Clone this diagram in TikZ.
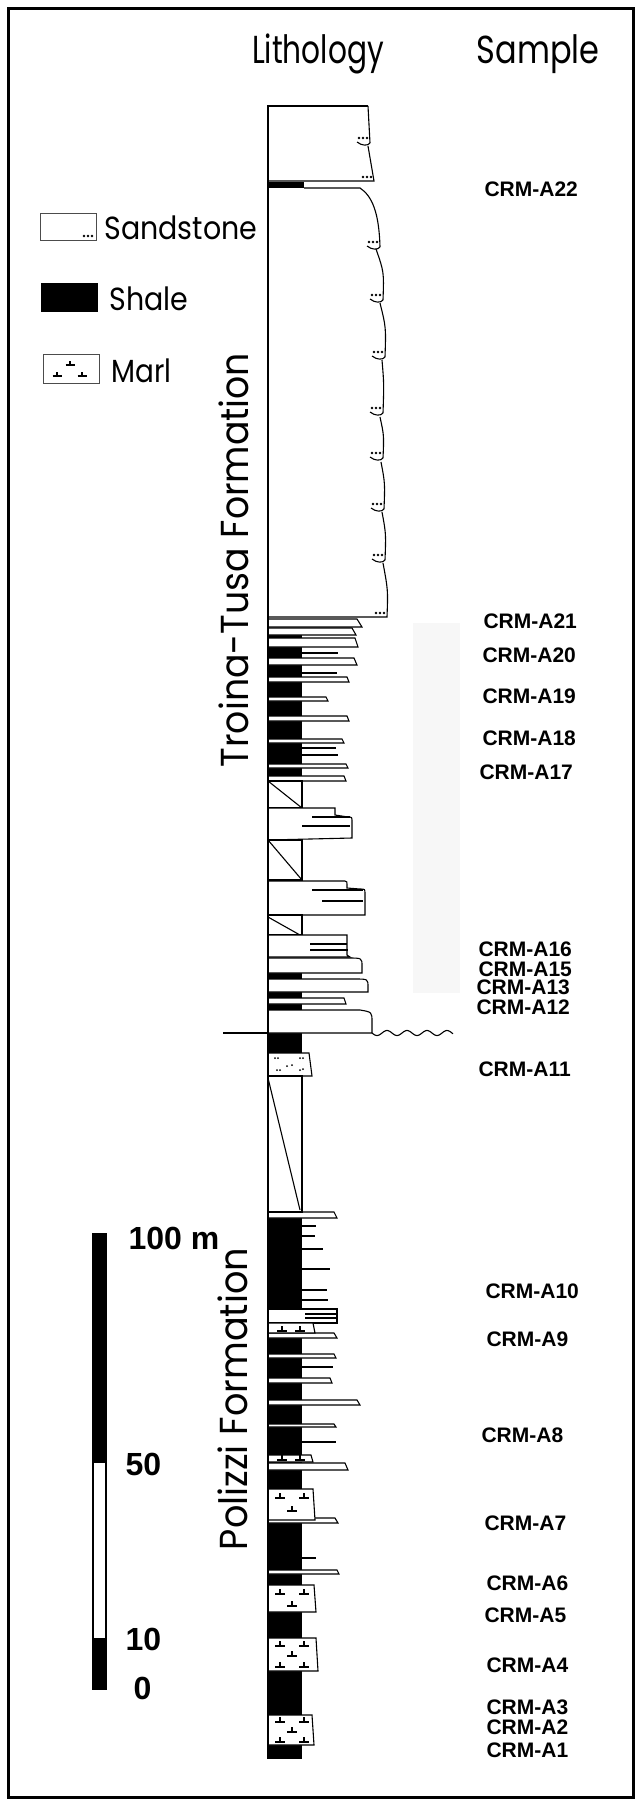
\documentclass[tikz,border=0pt]{standalone}
\usepackage{fontspec}
\setmainfont{Poppins}
\newfontfamily\labelfont{Liberation Sans}
\usepackage{graphicx}
\usepackage{tikz}
\newcommand\squeeze[2]{\scalebox{#1}[1]{#2}}

\begin{document}
\begin{tikzpicture}[x=1pt,y=-1pt,
        bed/.style={draw,fill=white,line width=1.1pt},
        silt/.style={line width=1.1pt},
        head/.style={anchor=base,font=\fontsize{39}{39}\selectfont},
        leg/.style={anchor=base west,font=\fontsize{32}{32}\selectfont},
        formation/.style={anchor=base,rotate=90,font=\fontsize{39}{39}\selectfont},
        sample/.style={anchor=west,font=\labelfont\bfseries\fontsize{21}{21}\selectfont},
        scalelabel/.style={anchor=west,font=\labelfont\bfseries\fontsize{32}{32}\selectfont},
        marl/.pic={\draw[line width=1.1pt] (-5,0) -- (5,0) (0,0) -- (0,-5);},
        hook/.pic={\draw[line width=1.1pt] (0,0) .. controls (-2,3) and (-8,3) .. (-13,-1);
                \fill (-11,-5) circle (1.3pt) (-7,-5) circle (1.3pt) (-3,-5) circle (1.3pt);},
        sanddots/.pic={\fill (-11,-4) circle (1.3pt) (-7,-4) circle (1.3pt) (-3,-4) circle (1.3pt);}]
        \useasboundingbox (0,0) rectangle (636,1800);
        \draw[line width=3pt] (8,8) rectangle (633,1797);

        \node[head] (lith) at (318,63) {\squeeze{0.76}{Lithology}};
        \node[head] (sample) at (538,63) {\squeeze{0.82}{Sample}};

        \draw[black!70,line width=0.8pt] (40,213) rectangle (96,240);
        \pic at (95,240) {sanddots};
        \node[leg] (sandstone) at (101,239) {\squeeze{0.89}{Sandstone}};
        \fill (41,283) rectangle (98,312);
        \node[leg] (shale) at (106,310) {\squeeze{0.89}{Shale}};
        \draw[black!70,line width=0.8pt] (43,354) rectangle (99,383);
        \pic[scale=0.9] at (70,365) {marl};
        \pic[scale=0.9] at (57,376) {marl};
        \pic[scale=0.9] at (82,376) {marl};
        \node[leg] (marl) at (108,382) {\squeeze{0.87}{Marl}};

        \node[formation] (troina) at (248,560) {\squeeze{0.93}{Troina-Tusa Formation}};
        \node[formation] (polizzi) at (247,1399) {\squeeze{0.94}{Polizzi Formation}};

        \fill[black!3] (413,623) rectangle (460,993);

        \draw[line width=2.5pt] (368,106) -- (268,106);
        \draw[line width=1.1pt] (368,106) -- (370,143);
        \pic at (370,143) {hook};
        \draw[line width=1.1pt] (368,146) -- (374,181) -- (268,181);
        \pic at (374,181) {sanddots};
        \fill (268,182) rectangle (304,188);
        \draw[line width=1.1pt] (304,188) -- (360,188) .. controls (372,196) and (379,212) .. (380,247);
        \pic at (380,247) {hook};
        \foreach \xa/\ya/\xb/\yb in {376/249/383/300, 380/303/385/357, 382/360/383/413,
                380/417/383/458, 381/462/384/509, 382/512/385/560}{
                \draw[line width=1.1pt] (\xa,\ya) .. controls ({\xb+1},{\ya+0.45*(\yb-\ya)}) .. (\xb,\yb);
                \pic at (\xb,\yb) {hook};
        }
        \draw[line width=1.1pt] (383,563) .. controls (388,590) .. (387,617) -- (268,617);
        \pic at (387,617) {sanddots};

        \fill (268,635) rectangle (302,781);
        \fill (268,973) rectangle (302,1010);
        \fill (268,1033) rectangle (302,1759);
        \foreach \ya/\yb/\xa/\xb in {619/627/357/362, 628/635/352/356, 638/647/355/358,
                658/665/354/357, 677/682/347/349, 697/701/326/328, 716/721/347/349,
                739/743/342/344, 764/768/346/348, 776/781/344/346, 998/1004/344/346,
                1212/1218/334/337, 1333/1338/334/337, 1354/1358/334/336, 1378/1383/330/332,
                1400/1405/357/360, 1424/1427/334/336, 1463/1470/345/348, 1518/1523/335/338,
                1570/1574/337/339}
                \draw[bed] (268,\ya) -- (\xa,\ya) -- (\xb,\yb) -- (268,\yb) -- cycle;
        \foreach \y/\x in {653/338, 673/337, 748/336, 755/338, 1226/316, 1236/315,
                1249/323, 1269/330, 1290/327, 1300/328, 1367/333, 1442/336, 1558/316}
                \draw[silt] (302,\y) -- (\x,\y);

        \draw[bed] (268,781) rectangle (302,808);
        \draw[silt] (268,781) -- (302,808);
        \draw[bed] (268,808) -- (335,808) -- (335,815) -- (348,817)
                .. controls (352,817) .. (352,822) -- (352,838) -- (268,840) -- cycle;
        \draw[silt] (312,817) -- (350,817) (302,826) -- (350,826);
        \draw[bed] (268,840) rectangle (302,880);
        \draw[silt] (268,840) -- (302,880);
        \draw[bed] (268,881) -- (345,881) .. controls (347,881) .. (347,888) -- (360,889)
                .. controls (365,889) .. (365,894) -- (365,915) -- (268,915) -- cycle;
        \draw[silt] (312,890) -- (363,890) (322,901) -- (363,901);
        \draw[bed] (268,915) rectangle (302,935);
        \draw[silt] (268,917) -- (300,935);
        \draw[bed] (268,935) -- (347,935) -- (347,955) -- (350,957) -- (268,957) -- cycle;
        \draw[silt] (310,944) -- (347,944) (310,950) -- (348,950);
        \draw[bed] (268,958) -- (348,958) .. controls (362,958) .. (362,966) -- (362,973) -- (268,973) -- cycle;
        \draw[bed] (268,979) -- (355,979) .. controls (368,979) .. (368,987) -- (368,992) -- (268,992) -- cycle;
        \draw[bed] (268,1010) -- (360,1010) .. controls (372,1012) .. (372,1022) -- (372,1033) -- (268,1033) -- cycle;

        \draw[line width=1.1pt] (223,1033) -- (268,1033);
        \draw[line width=1.1pt] plot[domain=372:453,samples=90] (\x,{1033+2.5*sin(18*(\x-372))});

        \draw[bed] (268,1053) -- (309,1053) -- (312,1076) -- (268,1076) -- cycle;
        \foreach \x/\y in {275/1058, 278/1058, 300/1058, 303/1058, 277/1070, 280/1070,
                287/1066, 292/1065, 300/1070, 303/1069}
                \fill (\x,\y) circle (1pt);
        \draw[bed] (268,1076) rectangle (302,1212);
        \draw[silt] (268,1078) -- (300,1210);
        \draw[bed] (268,1309) rectangle (337,1323);
        \draw[silt] (305,1314) -- (337,1314) (305,1318) -- (337,1318);

        \foreach \ya/\yb/\xb in {1323/1333/315, 1455/1462/313, 1489/1520/315,
                1585/1612/316, 1638/1671/318, 1715/1745/314}
                \draw[bed] (268,\ya) -- ({\xb-2},\ya) -- (\xb,\yb) -- (268,\yb) -- cycle;
        \foreach \x/\y in {282/1331, 300/1331, 282/1460, 300/1460, 280/1498, 304/1498,
                292/1511, 280/1594, 304/1594, 292/1606, 280/1646, 304/1646, 292/1656,
                280/1667, 304/1667, 280/1722, 304/1722, 292/1732, 280/1742, 304/1742}
                \pic at (\x,\y) {marl};

        \draw[line width=2.5pt] (268,105) -- (268,1759);

        \fill (92,1233) rectangle (107,1690);
        \fill[white] (94,1463) rectangle (105,1638);
        \node[scalelabel] (m100) at (125,1238) {100 m};
        \node[scalelabel] (m50) at (122,1464) {50};
        \node[scalelabel] (m10) at (122,1639) {10};
        \node[scalelabel] (m0) at (130,1688) {0};

        \foreach \n/\x/\y in {22/481/189, 21/480/621, 20/479/655, 19/479/696, 18/479/738,
                17/476/772, 16/475/949, 15/475/969, 13/473/987, 12/473/1007, 11/475/1069,
                10/482/1291, 9/483/1339, 8/478/1435, 7/481/1523, 6/483/1583, 5/481/1615,
                4/483/1665, 3/483/1707, 2/483/1727, 1/483/1750}
                \node[sample] (crm\n) at (\x,\y) {CRM-A\n};
\end{tikzpicture}
\end{document}
